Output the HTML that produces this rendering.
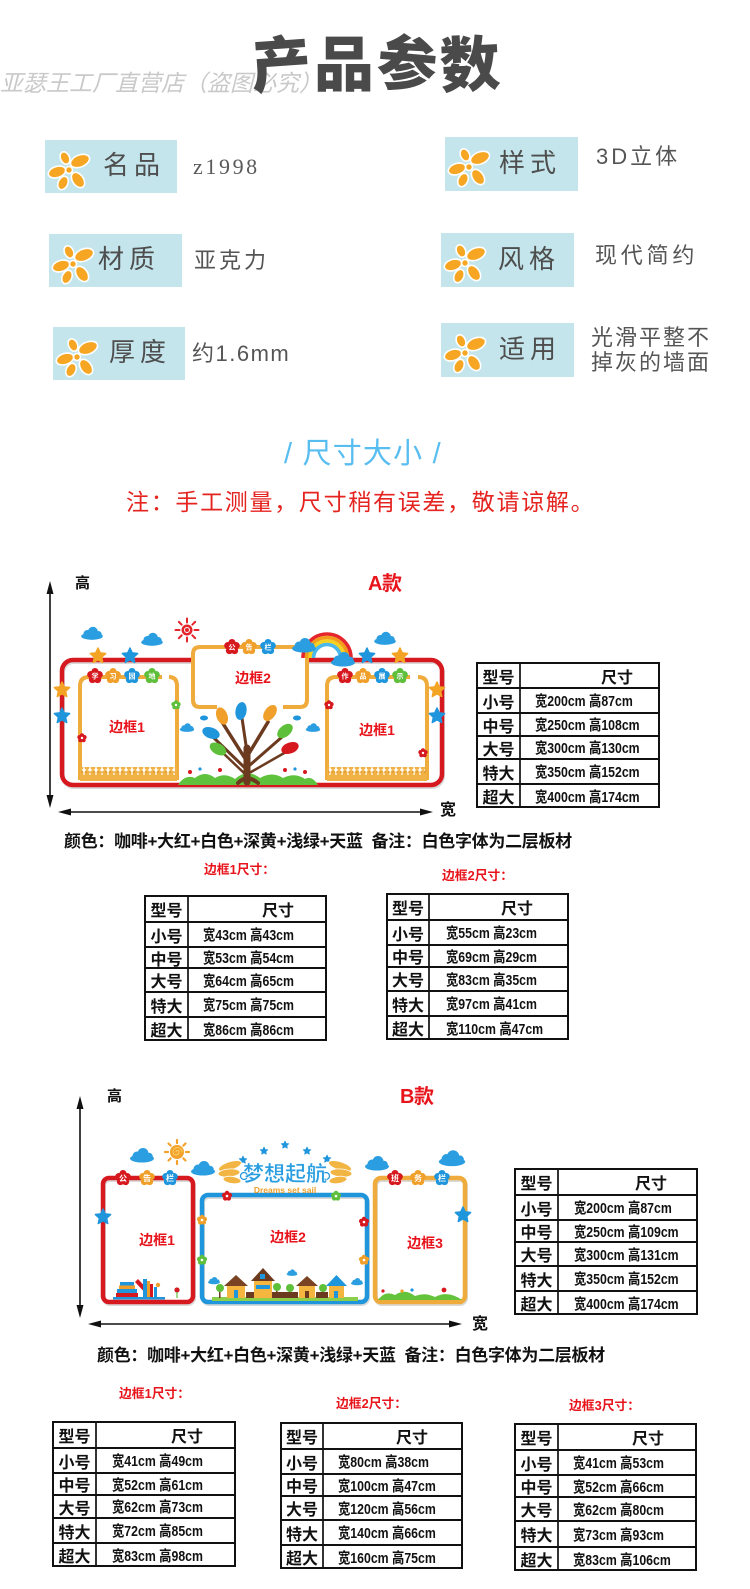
<!DOCTYPE html>
<html><head><meta charset="utf-8">
<style>
*{margin:0;padding:0}
html,body{width:750px;height:1589px;background:#fff;overflow:hidden}
body{position:relative;font-family:"Liberation Sans","Noto Sans CJK SC",sans-serif}
.t{position:absolute;white-space:nowrap;font-family:"Liberation Sans","Noto Sans CJK SC",sans-serif}
.box{position:absolute;background:#c4e5ec}
.box svg{position:absolute}
.lab{position:absolute;font-size:26px;line-height:26px;color:#4e4e4e;letter-spacing:5px;white-space:nowrap;font-family:"Liberation Sans","Noto Sans CJK SC",sans-serif}
.val{position:absolute;font-size:22px;line-height:22px;color:#555;letter-spacing:3px;white-space:nowrap;font-family:"Liberation Sans","Noto Sans CJK SC",sans-serif}
.tb{position:absolute;border:2px solid #111;box-sizing:border-box;font-family:"Liberation Sans","Noto Sans CJK SC",sans-serif;font-weight:bold;color:#111}
.tb .v{position:absolute;top:0;bottom:0;width:2px;background:#333}
.tb .r{position:absolute;left:0;right:0;box-sizing:border-box}
.tb .r2{border-top:2px solid #111}
.tb .a{position:absolute;left:0;top:0;bottom:0;display:flex;align-items:center;justify-content:center;font-size:16px}
.tb .b{position:absolute;top:0;bottom:0;display:flex;align-items:center;font-size:15px;white-space:nowrap;transform:scaleX(0.82);transform-origin:0 50%}
.tb .h{position:absolute;top:0;bottom:0;width:40px;display:flex;align-items:center;justify-content:center;font-size:16px}
.bold{font-weight:bold}
.red{color:#e8141b}
.cap{font-size:12.8px;line-height:13px}
</style></head>
<body>

<svg style="position:absolute;left:0;top:0" width="750" height="1589" viewBox="0 0 750 1589" xmlns="http://www.w3.org/2000/svg">
<defs>
<pattern id="fence" x="0" y="0" width="6" height="14" patternUnits="userSpaceOnUse">
<rect x="0.6" y="0" width="4.8" height="14" rx="2.4" fill="#f1b245"/>
</pattern>
</defs>

<!-- A arrows -->
<g fill="#111" stroke="#111">
<line x1="50" y1="586" x2="50" y2="803" stroke-width="1.6"/>
<polygon points="50,581 46.5,594 53.5,594" stroke="none"/>
<polygon points="50,808 46.5,795 53.5,795" stroke="none"/>
<line x1="63" y1="812" x2="428" y2="812" stroke-width="1.6"/>
<polygon points="58,812 71,808.5 71,815.5" stroke="none"/>
<polygon points="433,812 420,808.5 420,815.5" stroke="none"/>
</g>

<!-- A diagram -->
<rect x="63" y="662" width="380" height="125" rx="11" fill="none" stroke="#d9d9d9" stroke-width="4"/>
<rect x="62" y="660" width="380" height="125" rx="11" fill="none" stroke="#d6181f" stroke-width="4.5"/>
<rect x="195" y="649" width="110" height="56" fill="#fff"/>
<path d="M217,707 H200 Q193,707 193,700 V654 Q193,647 200,647 H300 Q307,647 307,654 V700 Q307,707 300,707 H283" fill="none" stroke="#efab3c" stroke-width="4"/>
<path d="M80,780 V686 Q80,677 89,677 H162 M169,677 Q177,677 177,686 V780" fill="none" stroke="#efab3c" stroke-width="4"/>
<rect x="80" y="767" width="97" height="14" fill="url(#fence)"/>
<rect x="80" y="775" width="97" height="6" fill="#f1b245"/>
<line x1="81" y1="772" x2="176" y2="772" stroke="#d98d24" stroke-width="1" stroke-dasharray="2,2"/>
<path d="M327,780 V686 Q327,677 336,677 H410 M418,677 Q427,677 427,686 V780" fill="none" stroke="#efab3c" stroke-width="4"/>
<rect x="327" y="767" width="100" height="14" fill="url(#fence)"/>
<rect x="327" y="775" width="100" height="6" fill="#f1b245"/>
<line x1="328" y1="772" x2="426" y2="772" stroke="#d98d24" stroke-width="1" stroke-dasharray="2,2"/>

<g transform="translate(187,630)" stroke="#e3242b" stroke-width="2" stroke-linecap="round">
<circle r="5.5" fill="#e3242b" stroke="none"/>
<circle r="2.5" fill="none" stroke="#fff" stroke-width="1"/>
<line x1="7.5" x2="11.5"/><line x1="7.5" x2="11.5" transform="rotate(45)"/><line x1="7.5" x2="11.5" transform="rotate(90)"/><line x1="7.5" x2="11.5" transform="rotate(135)"/><line x1="7.5" x2="11.5" transform="rotate(180)"/><line x1="7.5" x2="11.5" transform="rotate(225)"/><line x1="7.5" x2="11.5" transform="rotate(270)"/><line x1="7.5" x2="11.5" transform="rotate(315)"/>
</g>
<g fill="none" stroke-width="3.6">
<path d="M303,658 A24,24 0 0 1 351,658" stroke="#e4262c"/>
<path d="M306.5,658 A20.5,20.5 0 0 1 347.5,658" stroke="#f29b1d"/>
<path d="M310,658 A17,17 0 0 1 344,658" stroke="#f6d11f"/>
<path d="M313.5,658 A13.5,13.5 0 0 1 340.5,658" stroke="#4ab8e8"/>
</g>
<g fill="#2a9ee0">
<g transform="translate(92,634) scale(0.9)"><ellipse cy="2.5" rx="12" ry="4"/><circle cx="-5" r="4.5"/><circle cx="1" cy="-2.5" r="5.5"/><circle cx="7" cy="0.5" r="3.8"/></g>
<g transform="translate(152,640) scale(0.9)"><ellipse cy="2.5" rx="12" ry="4"/><circle cx="-5" r="4.5"/><circle cx="1" cy="-2.5" r="5.5"/><circle cx="7" cy="0.5" r="3.8"/></g>
<g transform="translate(385,639) scale(0.9)"><ellipse cy="2.5" rx="12" ry="4"/><circle cx="-5" r="4.5"/><circle cx="1" cy="-2.5" r="5.5"/><circle cx="7" cy="0.5" r="3.8"/></g>
<g transform="translate(187,728) scale(0.6)"><ellipse cy="2.5" rx="12" ry="4"/><circle cx="-5" r="4.5"/><circle cx="1" cy="-2.5" r="5.5"/><circle cx="7" cy="0.5" r="3.8"/></g>
<g transform="translate(313,728) scale(0.6)"><ellipse cy="2.5" rx="12" ry="4"/><circle cx="-5" r="4.5"/><circle cx="1" cy="-2.5" r="5.5"/><circle cx="7" cy="0.5" r="3.8"/></g>
<g transform="translate(304,646) scale(1)"><ellipse cy="2.5" rx="12" ry="4"/><circle cx="-5" r="4.5"/><circle cx="1" cy="-2.5" r="5.5"/><circle cx="7" cy="0.5" r="3.8"/></g>
<g transform="translate(343,660) scale(1)"><ellipse cy="2.5" rx="12" ry="4"/><circle cx="-5" r="4.5"/><circle cx="1" cy="-2.5" r="5.5"/><circle cx="7" cy="0.5" r="3.8"/></g>
</g>
<g stroke-linejoin="round" stroke-width="1.5">
<path transform="translate(98,656)" d="M0,-8L2.23,-3.07L7.61,-2.47L3.61,1.17L4.7,6.47L0,3.8L-4.7,6.47L-3.61,1.17L-7.61,-2.47L-2.23,-3.07Z" fill="#f4a424" stroke="#f4a424"/>
<path transform="translate(400,656)" d="M0,-8L2.23,-3.07L7.61,-2.47L3.61,1.17L4.7,6.47L0,3.8L-4.7,6.47L-3.61,1.17L-7.61,-2.47L-2.23,-3.07Z" fill="#f4a424" stroke="#f4a424"/>
<path transform="translate(62,690)" d="M0,-8L2.23,-3.07L7.61,-2.47L3.61,1.17L4.7,6.47L0,3.8L-4.7,6.47L-3.61,1.17L-7.61,-2.47L-2.23,-3.07Z" fill="#f4a424" stroke="#f4a424"/>
<path transform="translate(437,690)" d="M0,-8L2.23,-3.07L7.61,-2.47L3.61,1.17L4.7,6.47L0,3.8L-4.7,6.47L-3.61,1.17L-7.61,-2.47L-2.23,-3.07Z" fill="#f4a424" stroke="#f4a424"/>
<path transform="translate(130,656)" d="M0,-8L2.23,-3.07L7.61,-2.47L3.61,1.17L4.7,6.47L0,3.8L-4.7,6.47L-3.61,1.17L-7.61,-2.47L-2.23,-3.07Z" fill="#1f95dc" stroke="#1f95dc"/>
<path transform="translate(367,656)" d="M0,-8L2.23,-3.07L7.61,-2.47L3.61,1.17L4.7,6.47L0,3.8L-4.7,6.47L-3.61,1.17L-7.61,-2.47L-2.23,-3.07Z" fill="#1f95dc" stroke="#1f95dc"/>
<path transform="translate(62,716)" d="M0,-8L2.23,-3.07L7.61,-2.47L3.61,1.17L4.7,6.47L0,3.8L-4.7,6.47L-3.61,1.17L-7.61,-2.47L-2.23,-3.07Z" fill="#1f95dc" stroke="#1f95dc"/>
<path transform="translate(437,716)" d="M0,-8L2.23,-3.07L7.61,-2.47L3.61,1.17L4.7,6.47L0,3.8L-4.7,6.47L-3.61,1.17L-7.61,-2.47L-2.23,-3.07Z" fill="#1f95dc" stroke="#1f95dc"/>
</g>
<g font-family="Noto Sans CJK SC, sans-serif" font-size="7" font-weight="bold" text-anchor="middle">
<g transform="translate(95,676)" fill="#d6181f"><circle r="5.2"/><circle cy="-4.4" r="3.6"/><circle cx="4.18" cy="-1.36" r="3.6"/><circle cx="2.59" cy="3.56" r="3.6"/><circle cx="-2.59" cy="3.56" r="3.6"/><circle cx="-4.18" cy="-1.36" r="3.6"/><text y="2.5" fill="#fff">学</text></g>
<g transform="translate(113,676)" fill="#f0a02a"><circle r="5.2"/><circle cy="-4.4" r="3.6"/><circle cx="4.18" cy="-1.36" r="3.6"/><circle cx="2.59" cy="3.56" r="3.6"/><circle cx="-2.59" cy="3.56" r="3.6"/><circle cx="-4.18" cy="-1.36" r="3.6"/><text y="2.5" fill="#fff">习</text></g>
<g transform="translate(132,676)" fill="#1f95dc"><circle r="5.2"/><circle cy="-4.4" r="3.6"/><circle cx="4.18" cy="-1.36" r="3.6"/><circle cx="2.59" cy="3.56" r="3.6"/><circle cx="-2.59" cy="3.56" r="3.6"/><circle cx="-4.18" cy="-1.36" r="3.6"/><text y="2.5" fill="#fff">园</text></g>
<g transform="translate(152,676)" fill="#5dbf3a"><circle r="5.2"/><circle cy="-4.4" r="3.6"/><circle cx="4.18" cy="-1.36" r="3.6"/><circle cx="2.59" cy="3.56" r="3.6"/><circle cx="-2.59" cy="3.56" r="3.6"/><circle cx="-4.18" cy="-1.36" r="3.6"/><text y="2.5" fill="#fff">地</text></g>
<g transform="translate(232,647)" fill="#d6181f"><circle r="5.2"/><circle cy="-4.4" r="3.6"/><circle cx="4.18" cy="-1.36" r="3.6"/><circle cx="2.59" cy="3.56" r="3.6"/><circle cx="-2.59" cy="3.56" r="3.6"/><circle cx="-4.18" cy="-1.36" r="3.6"/><text y="2.5" fill="#fff">公</text></g>
<g transform="translate(249,647)" fill="#f0a02a"><circle r="5.2"/><circle cy="-4.4" r="3.6"/><circle cx="4.18" cy="-1.36" r="3.6"/><circle cx="2.59" cy="3.56" r="3.6"/><circle cx="-2.59" cy="3.56" r="3.6"/><circle cx="-4.18" cy="-1.36" r="3.6"/><text y="2.5" fill="#fff">告</text></g>
<g transform="translate(268,647)" fill="#1f95dc"><circle r="5.2"/><circle cy="-4.4" r="3.6"/><circle cx="4.18" cy="-1.36" r="3.6"/><circle cx="2.59" cy="3.56" r="3.6"/><circle cx="-2.59" cy="3.56" r="3.6"/><circle cx="-4.18" cy="-1.36" r="3.6"/><text y="2.5" fill="#fff">栏</text></g>
<g transform="translate(345,676)" fill="#d6181f"><circle r="5.2"/><circle cy="-4.4" r="3.6"/><circle cx="4.18" cy="-1.36" r="3.6"/><circle cx="2.59" cy="3.56" r="3.6"/><circle cx="-2.59" cy="3.56" r="3.6"/><circle cx="-4.18" cy="-1.36" r="3.6"/><text y="2.5" fill="#fff">作</text></g>
<g transform="translate(363,676)" fill="#f0a02a"><circle r="5.2"/><circle cy="-4.4" r="3.6"/><circle cx="4.18" cy="-1.36" r="3.6"/><circle cx="2.59" cy="3.56" r="3.6"/><circle cx="-2.59" cy="3.56" r="3.6"/><circle cx="-4.18" cy="-1.36" r="3.6"/><text y="2.5" fill="#fff">品</text></g>
<g transform="translate(382,676)" fill="#1f95dc"><circle r="5.2"/><circle cy="-4.4" r="3.6"/><circle cx="4.18" cy="-1.36" r="3.6"/><circle cx="2.59" cy="3.56" r="3.6"/><circle cx="-2.59" cy="3.56" r="3.6"/><circle cx="-4.18" cy="-1.36" r="3.6"/><text y="2.5" fill="#fff">展</text></g>
<g transform="translate(400,676)" fill="#5dbf3a"><circle r="5.2"/><circle cy="-4.4" r="3.6"/><circle cx="4.18" cy="-1.36" r="3.6"/><circle cx="2.59" cy="3.56" r="3.6"/><circle cx="-2.59" cy="3.56" r="3.6"/><circle cx="-4.18" cy="-1.36" r="3.6"/><text y="2.5" fill="#fff">示</text></g>
</g>
<g transform="translate(82,738) scale(0.6)" fill="#d6181f"><circle r="5.2"/><circle cy="-4.4" r="3.6"/><circle cx="4.18" cy="-1.36" r="3.6"/><circle cx="2.59" cy="3.56" r="3.6"/><circle cx="-2.59" cy="3.56" r="3.6"/><circle cx="-4.18" cy="-1.36" r="3.6"/><circle r="2" fill="#fff"/></g>
<g transform="translate(176,705) scale(0.6)" fill="#5dbf3a"><circle r="5.2"/><circle cy="-4.4" r="3.6"/><circle cx="4.18" cy="-1.36" r="3.6"/><circle cx="2.59" cy="3.56" r="3.6"/><circle cx="-2.59" cy="3.56" r="3.6"/><circle cx="-4.18" cy="-1.36" r="3.6"/><circle r="2" fill="#fff"/></g>
<g transform="translate(329,705) scale(0.6)" fill="#d6181f"><circle r="5.2"/><circle cy="-4.4" r="3.6"/><circle cx="4.18" cy="-1.36" r="3.6"/><circle cx="2.59" cy="3.56" r="3.6"/><circle cx="-2.59" cy="3.56" r="3.6"/><circle cx="-4.18" cy="-1.36" r="3.6"/><circle r="2" fill="#fff"/></g>
<g transform="translate(423,753) scale(0.6)" fill="#d6181f"><circle r="5.2"/><circle cy="-4.4" r="3.6"/><circle cx="4.18" cy="-1.36" r="3.6"/><circle cx="2.59" cy="3.56" r="3.6"/><circle cx="-2.59" cy="3.56" r="3.6"/><circle cx="-4.18" cy="-1.36" r="3.6"/><circle r="2" fill="#fff"/></g>
<path d="M178,785 Q185,774 195,778 Q205,770 215,778 Q225,772 235,779 Q247,768 260,778 Q272,771 283,778 Q295,772 305,779 Q312,775 318,785 Z" fill="#5fc23c"/>
<g fill="#d6181f"><circle cx="190" cy="772" r="2"/><circle cx="220" cy="770" r="2"/><circle cx="285" cy="770" r="2"/><circle cx="305" cy="772" r="2"/></g>
<g fill="#1f95dc"><circle cx="200" cy="769" r="1.6"/><circle cx="295" cy="769" r="1.6"/></g>
<g stroke="#6b3a1f" stroke-linecap="round" fill="none">
<path d="M247,782 L247,748" stroke-width="7"/>
<path d="M246,760 L222,722" stroke-width="3.5"/>
<path d="M247,752 L242,718" stroke-width="3"/>
<path d="M248,755 L268,722" stroke-width="3.5"/>
<path d="M245,768 L214,738" stroke-width="3"/>
<path d="M250,765 L282,737" stroke-width="3"/>
<path d="M244,773 L222,752" stroke-width="2.5"/>
<path d="M251,772 L286,752" stroke-width="2.5"/>
<path d="M238,783 Q247,774 258,783" stroke-width="4"/>
</g>
<ellipse cx="222" cy="716" rx="5.5" ry="9" fill="#f0a02a" transform="rotate(-20 222 716)"/>
<ellipse cx="241" cy="711" rx="5.5" ry="9" fill="#1f95dc" transform="rotate(10 241 711)"/>
<ellipse cx="270" cy="713" rx="5.5" ry="9" fill="#f0a02a" transform="rotate(35 270 713)"/>
<ellipse cx="211" cy="733" rx="5.5" ry="9" fill="#1f95dc" transform="rotate(-70 211 733)"/>
<ellipse cx="285" cy="731" rx="5.5" ry="9" fill="#5dbf3a" transform="rotate(50 285 731)"/>
<ellipse cx="218" cy="749" rx="5.5" ry="9" fill="#5dbf3a" transform="rotate(-60 218 749)"/>
<ellipse cx="290" cy="748" rx="5.5" ry="9" fill="#d6181f" transform="rotate(70 290 748)"/>
<ellipse cx="204" cy="718" rx="4" ry="2.5" fill="#1f95dc"/>
<ellipse cx="297" cy="718" rx="4" ry="2.5" fill="#1f95dc"/>
<g font-family="Liberation Sans, Noto Sans CJK SC, sans-serif" font-size="14" font-weight="bold" fill="#e8141b" text-anchor="middle">
<text x="127" y="732">边框1</text>
<text x="253" y="683">边框2</text>
<text x="377" y="735">边框1</text>
</g>

<!-- B arrows -->
<g fill="#111" stroke="#111">
<line x1="80" y1="1101" x2="80" y2="1313" stroke-width="1.6"/>
<polygon points="80,1096 76.5,1109 83.5,1109" stroke="none"/>
<polygon points="80,1318 76.5,1305 83.5,1305" stroke="none"/>
<line x1="93" y1="1324" x2="457" y2="1324" stroke-width="1.6"/>
<polygon points="88,1324 101,1320.5 101,1327.5" stroke="none"/>
<polygon points="462,1324 449,1320.5 449,1327.5" stroke="none"/>
</g>

<!-- B diagram -->
<g fill="none" stroke="#d9d9d9" stroke-width="4">
<rect x="104" y="1180" width="90" height="124" rx="6"/>
<rect x="203" y="1197" width="165" height="107" rx="6"/>
<rect x="376" y="1180" width="90" height="124" rx="6"/>
</g>
<rect x="103" y="1178" width="90" height="124" rx="6" fill="none" stroke="#d6181f" stroke-width="4.5"/>
<rect x="202" y="1195" width="165" height="107" rx="6" fill="none" stroke="#1f95dc" stroke-width="4.5"/>
<rect x="375" y="1178" width="90" height="124" rx="6" fill="none" stroke="#efab3c" stroke-width="4.5"/>

<g transform="translate(177,1152)" stroke="#f3a32b" stroke-width="2.2" stroke-linecap="round">
<circle r="7" fill="#f3a32b" stroke="none"/>
<path d="M0,0 m-1,0 a1.5,1.5 0 1 1 3,0 a3,3 0 1 1 -6,0 a4.5,4.5 0 1 1 9,0" fill="none" stroke="#fbd06a" stroke-width="1"/>
<line x1="9" x2="12"/><line x1="9" x2="12" transform="rotate(45)"/><line x1="9" x2="12" transform="rotate(90)"/><line x1="9" x2="12" transform="rotate(135)"/><line x1="9" x2="12" transform="rotate(180)"/><line x1="9" x2="12" transform="rotate(225)"/><line x1="9" x2="12" transform="rotate(270)"/><line x1="9" x2="12" transform="rotate(315)"/>
</g>
<g fill="#2a9ee0">
<g transform="translate(142,1156) scale(1)"><ellipse cy="2.5" rx="12" ry="4"/><circle cx="-5" r="4.5"/><circle cx="1" cy="-2.5" r="5.5"/><circle cx="7" cy="0.5" r="3.8"/></g>
<g transform="translate(203,1169) scale(1)"><ellipse cy="2.5" rx="12" ry="4"/><circle cx="-5" r="4.5"/><circle cx="1" cy="-2.5" r="5.5"/><circle cx="7" cy="0.5" r="3.8"/></g>
<g transform="translate(377,1164) scale(1)"><ellipse cy="2.5" rx="12" ry="4"/><circle cx="-5" r="4.5"/><circle cx="1" cy="-2.5" r="5.5"/><circle cx="7" cy="0.5" r="3.8"/></g>
<g transform="translate(452,1159) scale(1.1)"><ellipse cy="2.5" rx="12" ry="4"/><circle cx="-5" r="4.5"/><circle cx="1" cy="-2.5" r="5.5"/><circle cx="7" cy="0.5" r="3.8"/></g>
<g transform="translate(214,1281) scale(0.5)"><ellipse cy="2.5" rx="12" ry="4"/><circle cx="-5" r="4.5"/><circle cx="1" cy="-2.5" r="5.5"/><circle cx="7" cy="0.5" r="3.8"/></g>
<g transform="translate(357,1282) scale(0.5)"><ellipse cy="2.5" rx="12" ry="4"/><circle cx="-5" r="4.5"/><circle cx="1" cy="-2.5" r="5.5"/><circle cx="7" cy="0.5" r="3.8"/></g>
<g transform="translate(292,1273) scale(0.45)"><ellipse cy="2.5" rx="12" ry="4"/><circle cx="-5" r="4.5"/><circle cx="1" cy="-2.5" r="5.5"/><circle cx="7" cy="0.5" r="3.8"/></g>
</g>
<g fill="#1f95dc" stroke="#1f95dc" stroke-width="1.5" stroke-linejoin="round">
<path transform="translate(243,1160) scale(0.5)" d="M0,-8L2.23,-3.07L7.61,-2.47L3.61,1.17L4.7,6.47L0,3.8L-4.7,6.47L-3.61,1.17L-7.61,-2.47L-2.23,-3.07Z"/>
<path transform="translate(264,1151) scale(0.5)" d="M0,-8L2.23,-3.07L7.61,-2.47L3.61,1.17L4.7,6.47L0,3.8L-4.7,6.47L-3.61,1.17L-7.61,-2.47L-2.23,-3.07Z"/>
<path transform="translate(285,1145) scale(0.5)" d="M0,-8L2.23,-3.07L7.61,-2.47L3.61,1.17L4.7,6.47L0,3.8L-4.7,6.47L-3.61,1.17L-7.61,-2.47L-2.23,-3.07Z"/>
<path transform="translate(307,1151) scale(0.5)" d="M0,-8L2.23,-3.07L7.61,-2.47L3.61,1.17L4.7,6.47L0,3.8L-4.7,6.47L-3.61,1.17L-7.61,-2.47L-2.23,-3.07Z"/>
<path transform="translate(327,1159) scale(0.5)" d="M0,-8L2.23,-3.07L7.61,-2.47L3.61,1.17L4.7,6.47L0,3.8L-4.7,6.47L-3.61,1.17L-7.61,-2.47L-2.23,-3.07Z"/>
<path transform="translate(103,1217) scale(1)" d="M0,-8L2.23,-3.07L7.61,-2.47L3.61,1.17L4.7,6.47L0,3.8L-4.7,6.47L-3.61,1.17L-7.61,-2.47L-2.23,-3.07Z"/>
<path transform="translate(463,1215) scale(1)" d="M0,-8L2.23,-3.07L7.61,-2.47L3.61,1.17L4.7,6.47L0,3.8L-4.7,6.47L-3.61,1.17L-7.61,-2.47L-2.23,-3.07Z"/>
</g>
<g fill="#f2b544" stroke="#fff" stroke-width="0.8">
<ellipse cx="230" cy="1166" rx="12" ry="4.2" transform="rotate(-18 230 1166)"/>
<ellipse cx="229" cy="1173" rx="11" ry="4" transform="rotate(-5 229 1173)"/>
<ellipse cx="232" cy="1180" rx="9" ry="3.6" transform="rotate(8 232 1180)"/>
<ellipse cx="340" cy="1166" rx="12" ry="4.2" transform="rotate(18 340 1166)"/>
<ellipse cx="341" cy="1173" rx="11" ry="4" transform="rotate(5 341 1173)"/>
<ellipse cx="338" cy="1180" rx="9" ry="3.6" transform="rotate(-8 338 1180)"/>
</g>
<circle cx="244" cy="1176" r="3.5" fill="#fff" stroke="#1f95dc" stroke-width="1.2"/>
<circle cx="326" cy="1176" r="3.5" fill="#fff" stroke="#1f95dc" stroke-width="1.2"/>
<text x="285" y="1181" text-anchor="middle" font-family="Noto Sans CJK SC, sans-serif" font-size="21" font-weight="bold" fill="#2a9ee0" stroke="#fff" stroke-width="0.4">梦想起航</text>
<text x="285" y="1193" text-anchor="middle" font-family="Liberation Sans, sans-serif" font-size="8.5" font-weight="bold" fill="#ee9f28">Dreams set sail</text>

<g font-family="Noto Sans CJK SC, sans-serif" font-size="8" font-weight="bold" text-anchor="middle">
<g transform="translate(123,1178)" fill="#d6181f"><circle r="5.2"/><circle cy="-4.4" r="3.6"/><circle cx="4.18" cy="-1.36" r="3.6"/><circle cx="2.59" cy="3.56" r="3.6"/><circle cx="-2.59" cy="3.56" r="3.6"/><circle cx="-4.18" cy="-1.36" r="3.6"/><text y="3" fill="#fff">公</text></g>
<g transform="translate(147,1178)" fill="#f0a02a"><circle r="5.2"/><circle cy="-4.4" r="3.6"/><circle cx="4.18" cy="-1.36" r="3.6"/><circle cx="2.59" cy="3.56" r="3.6"/><circle cx="-2.59" cy="3.56" r="3.6"/><circle cx="-4.18" cy="-1.36" r="3.6"/><text y="3" fill="#fff">告</text></g>
<g transform="translate(170,1178)" fill="#1f95dc"><circle r="5.2"/><circle cy="-4.4" r="3.6"/><circle cx="4.18" cy="-1.36" r="3.6"/><circle cx="2.59" cy="3.56" r="3.6"/><circle cx="-2.59" cy="3.56" r="3.6"/><circle cx="-4.18" cy="-1.36" r="3.6"/><text y="3" fill="#fff">栏</text></g>
<g transform="translate(395,1178)" fill="#d6181f"><circle r="5.2"/><circle cy="-4.4" r="3.6"/><circle cx="4.18" cy="-1.36" r="3.6"/><circle cx="2.59" cy="3.56" r="3.6"/><circle cx="-2.59" cy="3.56" r="3.6"/><circle cx="-4.18" cy="-1.36" r="3.6"/><text y="3" fill="#fff">班</text></g>
<g transform="translate(418,1178)" fill="#f0a02a"><circle r="5.2"/><circle cy="-4.4" r="3.6"/><circle cx="4.18" cy="-1.36" r="3.6"/><circle cx="2.59" cy="3.56" r="3.6"/><circle cx="-2.59" cy="3.56" r="3.6"/><circle cx="-4.18" cy="-1.36" r="3.6"/><text y="3" fill="#fff">务</text></g>
<g transform="translate(442,1178)" fill="#1f95dc"><circle r="5.2"/><circle cy="-4.4" r="3.6"/><circle cx="4.18" cy="-1.36" r="3.6"/><circle cx="2.59" cy="3.56" r="3.6"/><circle cx="-2.59" cy="3.56" r="3.6"/><circle cx="-4.18" cy="-1.36" r="3.6"/><text y="3" fill="#fff">栏</text></g>
</g>
<g transform="translate(227,1196) scale(0.65)" fill="#d6181f"><circle r="5.2"/><circle cy="-4.4" r="3.6"/><circle cx="4.18" cy="-1.36" r="3.6"/><circle cx="2.59" cy="3.56" r="3.6"/><circle cx="-2.59" cy="3.56" r="3.6"/><circle cx="-4.18" cy="-1.36" r="3.6"/><circle r="2" fill="#fff"/></g>
<g transform="translate(336,1196) scale(0.65)" fill="#5dbf3a"><circle r="5.2"/><circle cy="-4.4" r="3.6"/><circle cx="4.18" cy="-1.36" r="3.6"/><circle cx="2.59" cy="3.56" r="3.6"/><circle cx="-2.59" cy="3.56" r="3.6"/><circle cx="-4.18" cy="-1.36" r="3.6"/><circle r="2" fill="#fff"/></g>
<g transform="translate(202,1220) scale(0.65)" fill="#f0a02a"><circle r="5.2"/><circle cy="-4.4" r="3.6"/><circle cx="4.18" cy="-1.36" r="3.6"/><circle cx="2.59" cy="3.56" r="3.6"/><circle cx="-2.59" cy="3.56" r="3.6"/><circle cx="-4.18" cy="-1.36" r="3.6"/><circle r="2" fill="#fff"/></g>
<g transform="translate(202,1260) scale(0.65)" fill="#5dbf3a"><circle r="5.2"/><circle cy="-4.4" r="3.6"/><circle cx="4.18" cy="-1.36" r="3.6"/><circle cx="2.59" cy="3.56" r="3.6"/><circle cx="-2.59" cy="3.56" r="3.6"/><circle cx="-4.18" cy="-1.36" r="3.6"/><circle r="2" fill="#fff"/></g>
<g transform="translate(364,1222) scale(0.65)" fill="#d6181f"><circle r="5.2"/><circle cy="-4.4" r="3.6"/><circle cx="4.18" cy="-1.36" r="3.6"/><circle cx="2.59" cy="3.56" r="3.6"/><circle cx="-2.59" cy="3.56" r="3.6"/><circle cx="-4.18" cy="-1.36" r="3.6"/><circle r="2" fill="#fff"/></g>
<g transform="translate(364,1260) scale(0.65)" fill="#f0a02a"><circle r="5.2"/><circle cy="-4.4" r="3.6"/><circle cx="4.18" cy="-1.36" r="3.6"/><circle cx="2.59" cy="3.56" r="3.6"/><circle cx="-2.59" cy="3.56" r="3.6"/><circle cx="-4.18" cy="-1.36" r="3.6"/><circle r="2" fill="#fff"/></g>
<rect x="113" y="1297" width="52" height="2.5" fill="#1f95dc"/>
<rect x="116" y="1293" width="22" height="4" fill="#d6181f"/>
<rect x="117" y="1289" width="20" height="4" fill="#1f95dc"/>
<rect x="119" y="1285.5" width="16" height="3.5" fill="#f0a02a"/>
<rect x="120" y="1282" width="14" height="3.5" fill="#1f95dc"/>
<polygon points="135,1282 138,1279 152,1294 149,1297" fill="#d6181f"/>
<rect x="143" y="1279" width="4" height="18" fill="#1f95dc"/>
<rect x="147" y="1281" width="3" height="16" fill="#f0a02a"/>
<rect x="150" y="1284" width="3" height="13" fill="#d6181f"/>
<rect x="154" y="1287" width="3" height="10" fill="#1f95dc"/>
<circle cx="158" cy="1285" r="2.2" fill="#f0a02a"/>
<circle cx="177" cy="1290" r="2.6" fill="#d6181f"/>
<line x1="177" y1="1292" x2="177" y2="1298" stroke="#5dbf3a" stroke-width="1.2"/>
<rect x="212" y="1297" width="146" height="4" fill="#8ccf4a"/>
<g fill="#6b3a1f">
<rect x="219" y="1290" width="1.5" height="8"/><rect x="237" y="1290" width="1.5" height="8"/><rect x="276" y="1290" width="1.5" height="8"/><rect x="289" y="1290" width="1.5" height="8"/><rect x="322" y="1290" width="1.5" height="8"/>
<rect x="246" y="1292" width="8" height="6"/><rect x="272" y="1292" width="26" height="6"/><rect x="316" y="1292" width="12" height="6"/>
</g>
<g fill="#5dbf3a"><circle cx="220" cy="1288" r="4"/><circle cx="238" cy="1287" r="4"/><circle cx="277" cy="1287" r="4"/><circle cx="290" cy="1288" r="4"/><circle cx="323" cy="1288" r="4"/></g>
<rect x="227" y="1285" width="18" height="13" fill="#f5b63f"/>
<polygon points="224,1286 236,1275 248,1286" fill="#7a4424"/>
<rect x="234" y="1290" width="4" height="8" fill="#1f95dc"/>
<rect x="254" y="1279" width="18" height="19" fill="#f5b63f"/>
<polygon points="251,1281 263,1268 275,1281" fill="#6b3a1f"/>
<rect x="260" y="1274" width="5" height="5" fill="#1f95dc"/>
<rect x="256" y="1285" width="14" height="4" fill="#1f95dc"/>
<rect x="299" y="1285" width="16" height="13" fill="#f5b63f"/>
<polygon points="296,1286 307,1276 318,1286" fill="#7a4424"/>
<rect x="305" y="1291" width="4" height="7" fill="#6b3a1f"/>
<rect x="329" y="1285" width="15" height="13" fill="#f5b63f"/>
<polygon points="326,1286 336.5,1275 347,1286" fill="#1f95dc"/>
<rect x="334" y="1291" width="4" height="7" fill="#1f95dc"/>
<path d="M378,1300 Q385,1290 395,1295 Q405,1288 415,1296 Q425,1292 435,1297 Q448,1290 462,1300 Z" fill="#63c33a"/>
<circle cx="444" cy="1290" r="2.4" fill="#d6181f"/>
<circle cx="383" cy="1291" r="1.6" fill="#d6181f"/>
<circle cx="402" cy="1291" r="1.6" fill="#f0a02a"/>
<circle cx="412" cy="1290" r="1.6" fill="#1f95dc"/>
<g font-family="Liberation Sans, Noto Sans CJK SC, sans-serif" font-size="14" font-weight="bold" fill="#e8141b" text-anchor="middle">
<text x="157" y="1245">边框1</text>
<text x="288" y="1242">边框2</text>
<text x="425" y="1248">边框3</text>
</g>
</svg>

<!-- Header -->
<div class="t" style="left:0;top:72px;font-size:23px;line-height:23px;color:#c9c9c9;font-style:italic;">亚瑟王工厂直营店（盗图必究）</div>
<div class="t" style="left:251px;top:36px;font-size:60px;line-height:60px;color:#4a4a4a;font-weight:900;letter-spacing:3px;"><span style="display:inline-block;transform:rotate(-4deg)">产</span><span style="display:inline-block">品</span><span style="display:inline-block;transform:rotate(5deg)">参</span><span style="display:inline-block;transform:rotate(-3deg)">数</span></div>

<!-- Params -->
<div class="box" style="left:45px;top:140px;width:132px;height:53px"><svg style="left:2px;top:9px" width="46" height="42" viewBox="0 0 46 42"><g fill="#f6a623" stroke="#fff" stroke-width="1.6"><ellipse cx="18" cy="9" rx="4.5" ry="6.5" transform="rotate(-25 18 9)"/><ellipse cx="33" cy="12" rx="10" ry="6" transform="rotate(-22 33 12)"/><ellipse cx="10" cy="23" rx="9" ry="5.5" transform="rotate(-18 10 23)"/><ellipse cx="16" cy="34" rx="4.8" ry="7" transform="rotate(25 16 34)"/><ellipse cx="31" cy="31" rx="5.5" ry="8.5" transform="rotate(-35 31 31)"/><circle cx="22" cy="21" r="3.5"/></g></svg></div>
<div class="lab" style="left:103px;top:152px">名品</div>
<div class="val" style="left:193px;top:156px;font-family:'Liberation Serif',serif;letter-spacing:2.6px;color:#5a5a5a">z1998</div>

<div class="box" style="left:445px;top:137px;width:133px;height:54px"><svg style="left:2px;top:9px" width="46" height="42" viewBox="0 0 46 42"><g fill="#f6a623" stroke="#fff" stroke-width="1.6"><ellipse cx="18" cy="9" rx="4.5" ry="6.5" transform="rotate(-25 18 9)"/><ellipse cx="33" cy="12" rx="10" ry="6" transform="rotate(-22 33 12)"/><ellipse cx="10" cy="23" rx="9" ry="5.5" transform="rotate(-18 10 23)"/><ellipse cx="16" cy="34" rx="4.8" ry="7" transform="rotate(25 16 34)"/><ellipse cx="31" cy="31" rx="5.5" ry="8.5" transform="rotate(-35 31 31)"/><circle cx="22" cy="21" r="3.5"/></g></svg></div>
<div class="lab" style="left:499px;top:150px">样式</div>
<div class="val" style="left:596px;top:146px">3D立体</div>

<div class="box" style="left:49px;top:234px;width:133px;height:53px"><svg style="left:2px;top:9px" width="46" height="42" viewBox="0 0 46 42"><g fill="#f6a623" stroke="#fff" stroke-width="1.6"><ellipse cx="18" cy="9" rx="4.5" ry="6.5" transform="rotate(-25 18 9)"/><ellipse cx="33" cy="12" rx="10" ry="6" transform="rotate(-22 33 12)"/><ellipse cx="10" cy="23" rx="9" ry="5.5" transform="rotate(-18 10 23)"/><ellipse cx="16" cy="34" rx="4.8" ry="7" transform="rotate(25 16 34)"/><ellipse cx="31" cy="31" rx="5.5" ry="8.5" transform="rotate(-35 31 31)"/><circle cx="22" cy="21" r="3.5"/></g></svg></div>
<div class="lab" style="left:98px;top:246px">材质</div>
<div class="val" style="left:194px;top:250px">亚克力</div>

<div class="box" style="left:441px;top:233px;width:133px;height:54px"><svg style="left:2px;top:9px" width="46" height="42" viewBox="0 0 46 42"><g fill="#f6a623" stroke="#fff" stroke-width="1.6"><ellipse cx="18" cy="9" rx="4.5" ry="6.5" transform="rotate(-25 18 9)"/><ellipse cx="33" cy="12" rx="10" ry="6" transform="rotate(-22 33 12)"/><ellipse cx="10" cy="23" rx="9" ry="5.5" transform="rotate(-18 10 23)"/><ellipse cx="16" cy="34" rx="4.8" ry="7" transform="rotate(25 16 34)"/><ellipse cx="31" cy="31" rx="5.5" ry="8.5" transform="rotate(-35 31 31)"/><circle cx="22" cy="21" r="3.5"/></g></svg></div>
<div class="lab" style="left:498px;top:246px">风格</div>
<div class="val" style="left:595px;top:245px;letter-spacing:3.8px">现代简约</div>

<div class="box" style="left:53px;top:327px;width:132px;height:53px"><svg style="left:2px;top:9px" width="46" height="42" viewBox="0 0 46 42"><g fill="#f6a623" stroke="#fff" stroke-width="1.6"><ellipse cx="18" cy="9" rx="4.5" ry="6.5" transform="rotate(-25 18 9)"/><ellipse cx="33" cy="12" rx="10" ry="6" transform="rotate(-22 33 12)"/><ellipse cx="10" cy="23" rx="9" ry="5.5" transform="rotate(-18 10 23)"/><ellipse cx="16" cy="34" rx="4.8" ry="7" transform="rotate(25 16 34)"/><ellipse cx="31" cy="31" rx="5.5" ry="8.5" transform="rotate(-35 31 31)"/><circle cx="22" cy="21" r="3.5"/></g></svg></div>
<div class="lab" style="left:109px;top:339px">厚度</div>
<div class="val" style="left:192px;top:343px;letter-spacing:1.5px">约1.6mm</div>

<div class="box" style="left:441px;top:323px;width:133px;height:54px"><svg style="left:2px;top:9px" width="46" height="42" viewBox="0 0 46 42"><g fill="#f6a623" stroke="#fff" stroke-width="1.6"><ellipse cx="18" cy="9" rx="4.5" ry="6.5" transform="rotate(-25 18 9)"/><ellipse cx="33" cy="12" rx="10" ry="6" transform="rotate(-22 33 12)"/><ellipse cx="10" cy="23" rx="9" ry="5.5" transform="rotate(-18 10 23)"/><ellipse cx="16" cy="34" rx="4.8" ry="7" transform="rotate(25 16 34)"/><ellipse cx="31" cy="31" rx="5.5" ry="8.5" transform="rotate(-35 31 31)"/><circle cx="22" cy="21" r="3.5"/></g></svg></div>
<div class="lab" style="left:499px;top:336px">适用</div>
<div class="val" style="left:591px;top:325px;line-height:25px;letter-spacing:2px">光滑平整不<br>掉灰的墙面</div>

<!-- Size heading -->
<div class="t" style="left:284px;top:440px;font-size:29px;line-height:29px;color:#58bdf0;letter-spacing:1.2px">/ 尺寸大小 /</div>
<div class="t" style="left:126px;top:491px;font-size:23px;line-height:23px;color:#e5231f;letter-spacing:1.7px">注：手工测量，尺寸稍有误差，敬请谅解。</div>

<!-- A texts -->
<div class="t bold" style="left:75px;top:576px;font-size:15px;line-height:15px;color:#111">高</div>
<div class="t bold red" style="left:368px;top:574px;font-size:20px;line-height:20px;letter-spacing:-0.5px">A款</div>
<div class="t bold" style="left:440px;top:803px;font-size:16px;line-height:16px;color:#111">宽</div>
<div class="t bold" style="left:64px;top:833px;font-size:17px;line-height:17px;color:#111;letter-spacing:-0.3px">颜色：咖啡+大红+白色+深黄+浅绿+天蓝&nbsp;&nbsp;备注：白色字体为二层板材</div>
<div class="t bold red cap" style="left:204px;top:863px">边框1尺寸：</div>
<div class="t bold red cap" style="left:442px;top:869px">边框2尺寸：</div>

<!-- Table A -->
<div class="tb" style="left:476px;top:662px;width:184px;height:146px">
<div class="v" style="left:41px"></div>
<div class="r" style="top:0;height:23px"><div class="a" style="width:41px">型号</div><div class="h" style="left:119px">尺寸</div></div>
<div class="r r2" style="top:23px;height:25px"><div class="a" style="width:41px">小号</div><div class="b" style="left:57px">宽200cm 高87cm</div></div>
<div class="r r2" style="top:48px;height:23px"><div class="a" style="width:41px">中号</div><div class="b" style="left:57px">宽250cm 高108cm</div></div>
<div class="r r2" style="top:71px;height:23px"><div class="a" style="width:41px">大号</div><div class="b" style="left:57px">宽300cm 高130cm</div></div>
<div class="r r2" style="top:94px;height:25px"><div class="a" style="width:41px">特大</div><div class="b" style="left:57px">宽350cm 高152cm</div></div>
<div class="r r2" style="top:119px;height:24px"><div class="a" style="width:41px">超大</div><div class="b" style="left:57px">宽400cm 高174cm</div></div>
</div>

<!-- Table A1 -->
<div class="tb" style="left:144px;top:895px;width:183px;height:146px">
<div class="v" style="left:41px"></div>
<div class="r" style="top:0;height:24px"><div class="a" style="width:41px">型号</div><div class="h" style="left:112px">尺寸</div></div>
<div class="r r2" style="top:24px;height:25px"><div class="a" style="width:41px">小号</div><div class="b" style="left:57px">宽43cm 高43cm</div></div>
<div class="r r2" style="top:49px;height:21px"><div class="a" style="width:41px">中号</div><div class="b" style="left:57px">宽53cm 高54cm</div></div>
<div class="r r2" style="top:70px;height:24px"><div class="a" style="width:41px">大号</div><div class="b" style="left:57px">宽64cm 高65cm</div></div>
<div class="r r2" style="top:94px;height:25px"><div class="a" style="width:41px">特大</div><div class="b" style="left:57px">宽75cm 高75cm</div></div>
<div class="r r2" style="top:119px;height:24px"><div class="a" style="width:41px">超大</div><div class="b" style="left:57px">宽86cm 高86cm</div></div>
</div>

<!-- Table A2 -->
<div class="tb" style="left:386px;top:893px;width:183px;height:147px">
<div class="v" style="left:40px"></div>
<div class="r" style="top:0;height:24px"><div class="a" style="width:40px">型号</div><div class="h" style="left:109px">尺寸</div></div>
<div class="r r2" style="top:24px;height:25px"><div class="a" style="width:40px">小号</div><div class="b" style="left:58px">宽55cm 高23cm</div></div>
<div class="r r2" style="top:49px;height:22px"><div class="a" style="width:40px">中号</div><div class="b" style="left:58px">宽69cm 高29cm</div></div>
<div class="r r2" style="top:71px;height:24px"><div class="a" style="width:40px">大号</div><div class="b" style="left:58px">宽83cm 高35cm</div></div>
<div class="r r2" style="top:95px;height:25px"><div class="a" style="width:40px">特大</div><div class="b" style="left:58px">宽97cm 高41cm</div></div>
<div class="r r2" style="top:120px;height:24px"><div class="a" style="width:40px">超大</div><div class="b" style="left:58px">宽110cm 高47cm</div></div>
</div>

<!-- B texts -->
<div class="t bold" style="left:107px;top:1089px;font-size:15px;line-height:15px;color:#111">高</div>
<div class="t bold red" style="left:400px;top:1087px;font-size:20px;line-height:20px;letter-spacing:-0.5px">B款</div>
<div class="t bold" style="left:472px;top:1317px;font-size:16px;line-height:16px;color:#111">宽</div>
<div class="t bold" style="left:97px;top:1347px;font-size:17px;line-height:17px;color:#111;letter-spacing:-0.3px">颜色：咖啡+大红+白色+深黄+浅绿+天蓝&nbsp;&nbsp;备注：白色字体为二层板材</div>
<div class="t bold red cap" style="left:119px;top:1387px">边框1尺寸：</div>
<div class="t bold red cap" style="left:336px;top:1397px">边框2尺寸：</div>
<div class="t bold red cap" style="left:569px;top:1399px">边框3尺寸：</div>

<!-- Table B -->
<div class="tb" style="left:514px;top:1168px;width:184px;height:147px">
<div class="v" style="left:41px"></div>
<div class="r" style="top:0;height:24px"><div class="a" style="width:41px">型号</div><div class="h" style="left:115px">尺寸</div></div>
<div class="r r2" style="top:24px;height:25px"><div class="a" style="width:41px">小号</div><div class="b" style="left:58px">宽200cm 高87cm</div></div>
<div class="r r2" style="top:49px;height:22px"><div class="a" style="width:41px">中号</div><div class="b" style="left:58px">宽250cm 高109cm</div></div>
<div class="r r2" style="top:71px;height:24px"><div class="a" style="width:41px">大号</div><div class="b" style="left:58px">宽300cm 高131cm</div></div>
<div class="r r2" style="top:95px;height:25px"><div class="a" style="width:41px">特大</div><div class="b" style="left:58px">宽350cm 高152cm</div></div>
<div class="r r2" style="top:120px;height:24px"><div class="a" style="width:41px">超大</div><div class="b" style="left:58px">宽400cm 高174cm</div></div>
</div>

<!-- Table B1 -->
<div class="tb" style="left:52px;top:1421px;width:184px;height:146px">
<div class="v" style="left:41px"></div>
<div class="r" style="top:0;height:24px"><div class="a" style="width:41px">型号</div><div class="h" style="left:113px">尺寸</div></div>
<div class="r r2" style="top:24px;height:25px"><div class="a" style="width:41px">小号</div><div class="b" style="left:58px">宽41cm 高49cm</div></div>
<div class="r r2" style="top:49px;height:22px"><div class="a" style="width:41px">中号</div><div class="b" style="left:58px">宽52cm 高61cm</div></div>
<div class="r r2" style="top:71px;height:23px"><div class="a" style="width:41px">大号</div><div class="b" style="left:58px">宽62cm 高73cm</div></div>
<div class="r r2" style="top:94px;height:25px"><div class="a" style="width:41px">特大</div><div class="b" style="left:58px">宽72cm 高85cm</div></div>
<div class="r r2" style="top:119px;height:24px"><div class="a" style="width:41px">超大</div><div class="b" style="left:58px">宽83cm 高98cm</div></div>
</div>

<!-- Table B2 -->
<div class="tb" style="left:280px;top:1422px;width:183px;height:147px">
<div class="v" style="left:40px"></div>
<div class="r" style="top:0;height:24px"><div class="a" style="width:40px">型号</div><div class="h" style="left:110px">尺寸</div></div>
<div class="r r2" style="top:24px;height:25px"><div class="a" style="width:40px">小号</div><div class="b" style="left:56px">宽80cm 高38cm</div></div>
<div class="r r2" style="top:49px;height:22px"><div class="a" style="width:40px">中号</div><div class="b" style="left:56px">宽100cm 高47cm</div></div>
<div class="r r2" style="top:71px;height:24px"><div class="a" style="width:40px">大号</div><div class="b" style="left:56px">宽120cm 高56cm</div></div>
<div class="r r2" style="top:95px;height:25px"><div class="a" style="width:40px">特大</div><div class="b" style="left:56px">宽140cm 高66cm</div></div>
<div class="r r2" style="top:120px;height:24px"><div class="a" style="width:40px">超大</div><div class="b" style="left:56px">宽160cm 高75cm</div></div>
</div>

<!-- Table B3 -->
<div class="tb" style="left:514px;top:1423px;width:183px;height:148px">
<div class="v" style="left:41px"></div>
<div class="r" style="top:0;height:24px"><div class="a" style="width:41px">型号</div><div class="h" style="left:112px">尺寸</div></div>
<div class="r r2" style="top:24px;height:25px"><div class="a" style="width:41px">小号</div><div class="b" style="left:57px">宽41cm 高53cm</div></div>
<div class="r r2" style="top:49px;height:22px"><div class="a" style="width:41px">中号</div><div class="b" style="left:57px">宽52cm 高66cm</div></div>
<div class="r r2" style="top:71px;height:24px"><div class="a" style="width:41px">大号</div><div class="b" style="left:57px">宽62cm 高80cm</div></div>
<div class="r r2" style="top:95px;height:26px"><div class="a" style="width:41px">特大</div><div class="b" style="left:57px">宽73cm 高93cm</div></div>
<div class="r r2" style="top:121px;height:24px"><div class="a" style="width:41px">超大</div><div class="b" style="left:57px">宽83cm 高106cm</div></div>
</div>

</body></html>
